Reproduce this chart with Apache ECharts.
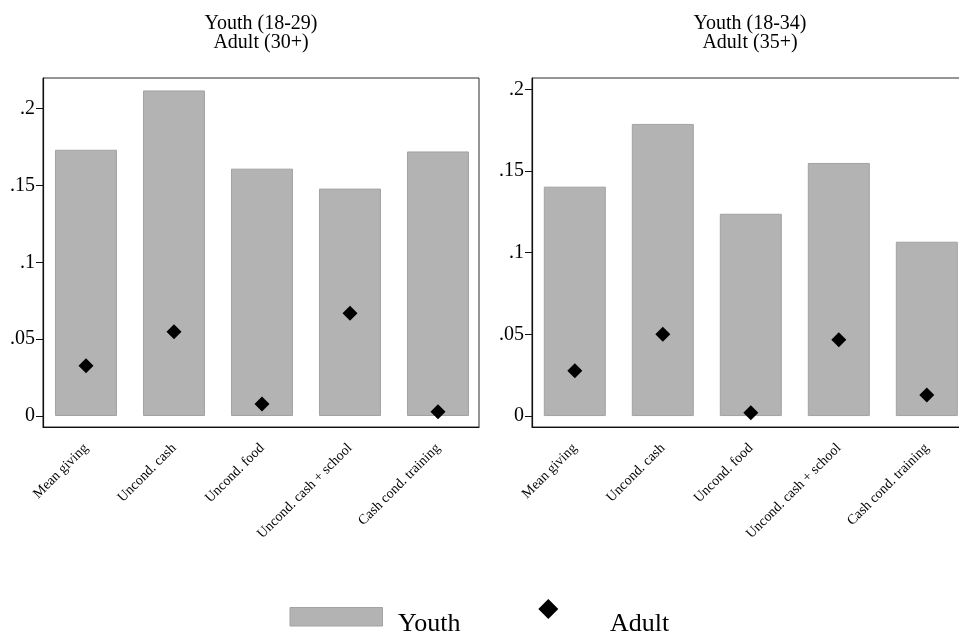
<!DOCTYPE html>
<html>
<head>
<meta charset="utf-8">
<script src="https://cdn.jsdelivr.net/npm/echarts@6/dist/echarts.min.js"></script>
<style>
  html, body { margin: 0; padding: 0; background: #fff; }
  #chart { width: 959px; height: 636px; }
</style>
</head>
<body>
<div id="chart"></div>
<script>
// Treatment arms shown on the horizontal axis
const categories = ['Mean giving', 'Uncond. cash', 'Uncond. food', 'Uncond. cash + school', 'Cash cond. training'];

// Left panel: youth 18-29 vs adult 30+
const youth1829 = [0.1733, 0.2119, 0.1610, 0.1480, 0.1722];
const adult30 = [0.0327, 0.0548, 0.0078, 0.0669, 0.0028];

// Right panel: youth 18-34 vs adult 35+
const youth1834 = [0.1404, 0.1788, 0.1238, 0.1549, 0.1067];
const adult35 = [0.0277, 0.0500, 0.0020, 0.0467, 0.0129];

// Vertical axis ticks
const yTicks = [0, 0.05, 0.1, 0.15, 0.2];
const yTickLabels = ['0', '.05', '.1', '.15', '.2'];

const panelTitles = ['Youth (18-29)\nAdult (30+)', 'Youth (18-34)\nAdult (35+)'];
const seriesNames = ['Youth', 'Adult'];

const FONT = 'Liberation Serif';
const BAR_FILL = '#b3b3b3';
const BAR_EDGE = '#a2a2a2';
const positions = categories.map((_, i) => i + 1);
const pair = arr => arr.map((v, i) => [positions[i], v]);

const panels = [
  { left: 43, right: 480, xMin: 0.5114, xMax: 5.466, yMin: -0.00715, yMax: 0.2200, youth: youth1829, adult: adult30 },
  { left: 532, right: -9, xMin: 0.5136, xMax: 5.468, yMin: -0.0067, yMax: 0.2069, youth: youth1834, adult: adult35 }
];

const grids = [], xAxes = [], yAxes = [], series = [], titles = [];

panels.forEach((p, k) => {
  grids.push({
    left: p.left, right: p.right, top: 78, bottom: 209,
    outerBoundsMode: 'none',
    containLabel: false,
    show: true, borderColor: '#2b2b2b', borderWidth: 1, backgroundColor: '#fff'
  });
  titles.push({
    text: panelTitles[k],
    left: p.left + (959 - p.right - p.left) / 2,
    top: 14,
    padding: 0,
    textAlign: 'center',
    textStyle: { fontFamily: FONT, fontSize: 20, fontWeight: 'normal', color: '#000', lineHeight: 19 }
  });
  xAxes.push({
    type: 'value', gridIndex: k, min: p.xMin, max: p.xMax,
    axisLine: { show: true, onZero: false, lineStyle: { color: '#111', width: 1.2 } },
    axisTick: { show: false },
    splitLine: { show: false },
    axisLabel: {
      customValues: positions,
      formatter: v => categories[Math.round(v) - 1] || '',
      rotate: 45, margin: 19,
      fontFamily: FONT, fontSize: 14, color: '#000'
    }
  });
  yAxes.push({
    type: 'value', gridIndex: k, min: p.yMin, max: p.yMax,
    axisLine: { show: true, onZero: false, lineStyle: { color: '#111', width: 1.2 } },
    axisTick: { show: true, customValues: yTicks, length: 7, lineStyle: { color: '#111', width: 1 } },
    splitLine: { show: false },
    axisLabel: {
      customValues: yTicks,
      formatter: v => {
        const i = yTicks.findIndex(t => Math.abs(t - v) < 1e-9);
        return i >= 0 ? yTickLabels[i] : '';
      },
      margin: 8,
      fontFamily: FONT, fontSize: 20, color: '#000'
    }
  });
  series.push({
    name: seriesNames[0], type: 'bar', xAxisIndex: k, yAxisIndex: k,
    barWidth: 62,
    itemStyle: { color: BAR_FILL, borderColor: BAR_EDGE, borderWidth: 1, opacity: 1 },
    data: pair(p.youth), z: 2
  });
  series.push({
    name: seriesNames[1], type: 'scatter', xAxisIndex: k, yAxisIndex: k,
    symbol: 'diamond', symbolSize: 15,
    itemStyle: { color: '#000', opacity: 1 },
    data: pair(p.adult), z: 3
  });
});

// Key below the panels: bar swatch, diamond marker and their labels
const keyFont = '26px "' + FONT + '"';
const legendKey = [
  { type: 'rect', shape: { x: 290, y: 607.5, width: 92.5, height: 18.5 },
    style: { fill: BAR_FILL, stroke: BAR_EDGE, lineWidth: 1 } },
  { type: 'text', x: 398, y: 624.5,
    style: { text: seriesNames[0], fill: '#000', font: keyFont, verticalAlign: 'middle' } },
  { type: 'polygon', shape: { points: [[548.3, 599], [558.3, 609], [548.3, 619], [538.3, 609]] },
    style: { fill: '#000' } },
  { type: 'text', x: 610, y: 624.5,
    style: { text: seriesNames[1], fill: '#000', font: keyFont, verticalAlign: 'middle' } }
];

const chart = echarts.init(document.getElementById('chart'), null, { renderer: 'canvas' });
chart.setOption({
  animation: false,
  backgroundColor: '#fff',
  title: titles,
  grid: grids,
  xAxis: xAxes,
  yAxis: yAxes,
  graphic: { elements: legendKey },
  series: series
});
</script>
</body>
</html>
